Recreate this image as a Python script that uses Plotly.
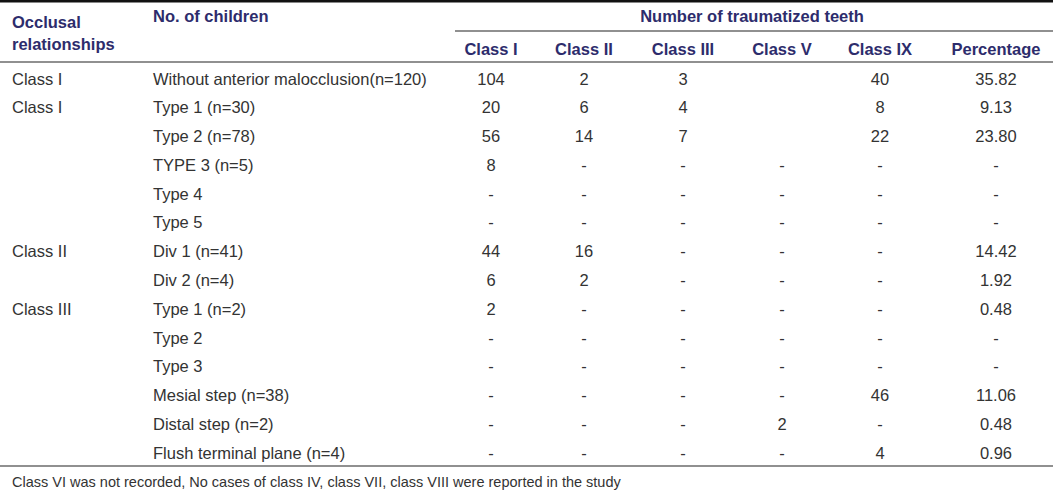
import plotly.graph_objects as go

# table content, one list per column
occlusal = ["Class I", "Class I", "", "", "", "", "Class II", "", "Class III", "", "", "", "", ""]
children = ["Without anterior malocclusion(n=120)", "Type 1 (n=30)", "Type 2 (n=78)", "TYPE 3 (n=5)",
            "Type 4", "Type 5", "Div 1 (n=41)", "Div 2 (n=4)", "Type 1 (n=2)", "Type 2", "Type 3",
            "Mesial step (n=38)", "Distal step (n=2)", "Flush terminal plane (n=4)"]
class_i = ["104", "20", "56", "8", "-", "-", "44", "6", "2", "-", "-", "-", "-", "-"]
class_ii = ["2", "6", "14", "-", "-", "-", "16", "2", "-", "-", "-", "-", "-", "-"]
class_iii = ["3", "4", "7", "-", "-", "-", "-", "-", "-", "-", "-", "-", "-", "-"]
class_v = ["", "", "", "-", "-", "-", "-", "-", "-", "-", "-", "-", "2", "-"]
class_ix = ["40", "8", "22", "-", "-", "-", "-", "-", "-", "-", "-", "46", "-", "4"]
percentage = ["35.82", "9.13", "23.80", "-", "-", "-", "14.42", "1.92", "0.48", "-", "-", "11.06", "0.48", "0.96"]

sub_headers = ["Class I", "Class II", "Class III", "Class V", "Class IX", "Percentage"]
group_header = "Number of traumatized teeth"
footnote = "Class VI was not recorded, No cases of class IV, class VII, class VIII were reported in the study"

W, H = 1053, 491
HEAD = "#2d2c6c"
BODY = "#333333"
FONT = "Liberation Sans, Arial, sans-serif"
FS = 16.5

row_y = [80.5 + i * 28.77 for i in range(len(children))]
num_x = [491, 584, 683, 782, 880, 996]
num_cols = [class_i, class_ii, class_iii, class_v, class_ix, percentage]

fig = go.Figure()

# left text columns
for x0, col in [(12, occlusal), (153, children)]:
    fig.add_trace(go.Scatter(x=[x0] * len(col), y=row_y, text=col, mode="text",
                             textposition="middle right",
                             textfont=dict(family=FONT, size=FS, color=BODY)))

# numeric columns
for xc, col in zip(num_x, num_cols):
    fig.add_trace(go.Scatter(x=[xc] * len(col), y=row_y, text=col, mode="text",
                             textposition="middle center",
                             textfont=dict(family=FONT, size=FS, color=BODY)))

# headers
hx = [12, 12, 153, 752] + num_x
hy = [23.5, 45.5, 18, 18] + [50.5] * 6
ht = ["Occlusal", "relationships", "No. of children", group_header] + sub_headers
hpos = ["middle right"] * 3 + ["middle center"] * 7
fig.add_trace(go.Scatter(x=hx, y=hy, text=["<b>%s</b>" % t for t in ht], mode="text",
                         textposition=hpos,
                         textfont=dict(family=FONT, size=FS, color=HEAD)))

# footnote
fig.add_trace(go.Scatter(x=[12], y=[483], text=[footnote], mode="text",
                         textposition="middle right",
                         textfont=dict(family=FONT, size=14.5, color=BODY)))

# rules
fig.add_shape(type="line", x0=0, x1=W, y0=1, y1=1, line=dict(color="#111111", width=3))
fig.add_shape(type="line", x0=455, x1=W, y0=31, y1=31, line=dict(color="#222222", width=1.2))
fig.add_shape(type="line", x0=0, x1=W, y0=62, y1=62, line=dict(color="#222222", width=1.2))
fig.add_shape(type="line", x0=0, x1=W, y0=466, y1=466, line=dict(color="#222222", width=1.2))

fig.update_layout(width=W, height=H, margin=dict(l=0, r=0, t=0, b=0),
                  paper_bgcolor="white", plot_bgcolor="white", showlegend=False,
                  xaxis=dict(range=[0, W], visible=False, fixedrange=True),
                  yaxis=dict(range=[H, 0], visible=False, fixedrange=True))

# drop the browser's default body margin so the figure sits at the page corner
fig.write_html("out.html", config={"displayModeBar": False},
               post_script="document.body.style.margin='0';")
